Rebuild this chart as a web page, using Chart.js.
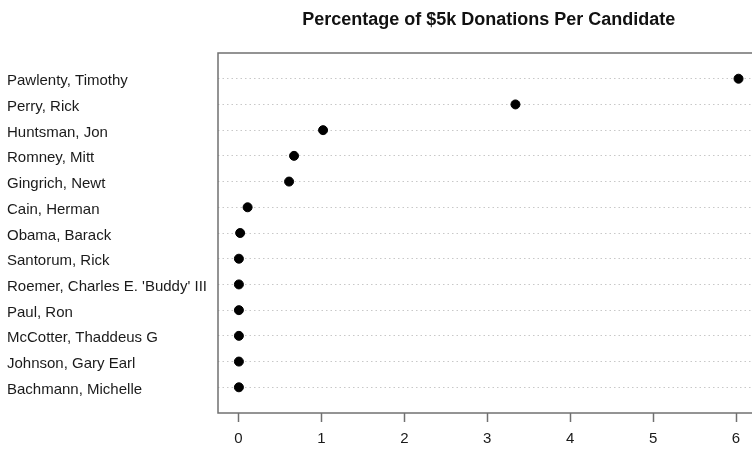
<!DOCTYPE html>
<html>
<head>
<meta charset="utf-8">
<script src="https://cdn.jsdelivr.net/npm/chart.js@4"></script>
<style>
  html, body { margin: 0; padding: 0; background: #fff; overflow: hidden; }
  #wrap { width: 765px; height: 451px; }
</style>
</head>
<body>
<div id="wrap"><canvas id="chart"></canvas></div>
<script>
const candidates = [
    'Pawlenty, Timothy', 'Perry, Rick', 'Huntsman, Jon', 'Romney, Mitt',
    'Gingrich, Newt', 'Cain, Herman', 'Obama, Barack', 'Santorum, Rick',
    "Roemer, Charles E. 'Buddy' III", 'Paul, Ron', 'McCotter, Thaddeus G',
    'Johnson, Gary Earl', 'Bachmann, Michelle'
];
const percentages = [6.03, 3.34, 1.02, 0.67, 0.61, 0.11, 0.02, 0.005, 0.005, 0.005, 0.005, 0.005, 0.005];
const xTicks = [0, 1, 2, 3, 4, 5, 6];
const title = 'Percentage of $5k Donations Per Candidate';

const n = candidates.length;
const points = percentages.map((v, i) => ({ x: v, y: n - i }));

// R style box + centred title
const boxPlugin = {
    id: 'box',
    afterDraw(chart) {
        const { ctx, chartArea: a } = chart;
        ctx.save();
        ctx.strokeStyle = '#707070';
        ctx.lineWidth = 1.5;
        ctx.strokeRect(a.left, a.top, a.right - a.left, a.bottom - a.top);
        ctx.fillStyle = '#111';
        ctx.font = 'bold 18px "Liberation Sans", Arial, sans-serif';
        ctx.textAlign = 'center';
        ctx.textBaseline = 'alphabetic';
        ctx.fillText(title, (a.left + a.right) / 2, 25);
        ctx.restore();
    }
};

new Chart(document.getElementById('chart'), {
    type: 'scatter',
    data: {
        datasets: [{
            data: points,
            backgroundColor: '#000',
            borderColor: '#000',
            pointRadius: 4.5,
            pointHoverRadius: 4.5
        }]
    },
    options: {
        responsive: true,
        maintainAspectRatio: false,
        animation: false,
        layout: { padding: { left: 7, top: 53, right: 5, bottom: 0 } },
        plugins: { legend: { display: false }, tooltip: { enabled: false } },
        scales: {
            x: {
                type: 'linear',
                min: -0.247,
                max: 6.283,
                afterBuildTicks: scale => { scale.ticks = xTicks.map(v => ({ value: v })); },
                afterFit: scale => { scale.height = 38; },
                ticks: {
                    color: '#1a1a1a',
                    padding: 8,
                    font: { family: '"Liberation Sans", Arial, sans-serif', size: 15 }
                },
                grid: {
                    drawOnChartArea: false,
                    tickLength: 9,
                    tickWidth: 1.5,
                    tickColor: '#707070'
                },
                border: { display: false }
            },
            y: {
                type: 'linear',
                min: 0,
                max: n + 1,
                afterFit: scale => { scale.width = 211; },
                ticks: {
                    stepSize: 1,
                    crossAlign: 'far',
                    labelOffset: 2.5,
                    color: '#1a1a1a',
                    font: { family: '"Liberation Sans", Arial, sans-serif', size: 15 },
                    callback: v => (v >= 1 && v <= n) ? candidates[n - v] : ''
                },
                grid: {
                    drawTicks: false,
                    lineWidth: 1,
                    color: c => (c.tick && c.tick.value >= 1 && c.tick.value <= n) ? '#c8c8c8' : 'rgba(0,0,0,0)'
                },
                border: { display: false, dash: [1.5, 3] }
            }
        }
    },
    plugins: [boxPlugin]
});
</script>
</body>
</html>
